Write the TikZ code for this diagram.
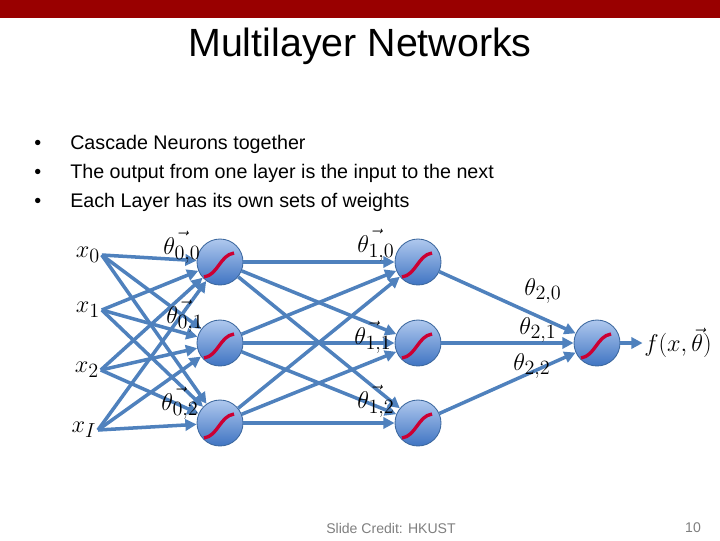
\documentclass[tikz,border=0pt]{standalone}
\usepackage{fontspec}
\setmainfont{Liberation Sans}
\usepackage{amsmath}
\usetikzlibrary{arrows.meta, positioning, calc}
\definecolor{slidered}{HTML}{990000}
\definecolor{nnblue}{HTML}{4F81BD}
\definecolor{nntop}{HTML}{AFC8EE}
\definecolor{nnbot}{HTML}{3F74C2}
\definecolor{nnedge}{HTML}{3B679E}
\definecolor{sigred}{HTML}{CC0033}
\definecolor{credgray}{HTML}{7F7F7F}

\begin{document}
\begin{tikzpicture}[x=0.025cm, y=-0.025cm,
  neuron/.style={circle, minimum size=1.15cm, inner sep=0pt, top color=nntop, bottom color=nnbot, draw=nnedge, line width=0.6pt},
  link/.style={draw=nnblue, line width=2.5pt, -{Triangle[length=8pt, width=8pt]}},
  wlabel/.style={font=\fontsize{19}{22}\selectfont, inner sep=1pt},
  bulletline/.style={font=\fontsize{14}{16}\selectfont, anchor=base west, inner sep=0pt}]
  \useasboundingbox (0,0) rectangle (720,540);
  \fill[slidered] (0,0) rectangle (720,18);
  \node[font=\fontsize{28}{30}\selectfont] (title) at (360,46) {Multilayer Networks};

  \foreach \y/\t [count=\k] in {149/Cascade Neurons together,
                                178/The output from one layer is the input to the next,
                                207/Each Layer has its own sets of weights}{
    \node[bulletline] (dot\k) at (34,\y) {\textbullet};
    \node[bulletline] (item\k) at (70,\y) {\t};
  }

  % neurons
  \foreach \c/\x in {0/220, 1/418}{
    \foreach \r/\y in {0/262, 1/343, 2/423}{
      \node[neuron] (h\c\r) at (\x,\y) {};
    }
  }
  \node[neuron] (o) at (597,343) {};

  % inputs
  \node[wlabel] (x0) at (88,255) {$x_0$};
  \node[wlabel] (x1) at (88,310) {$x_1$};
  \node[wlabel] (x2) at (87,370) {$x_2$};
  \node[wlabel] (x3) at (84,430) {$x_I$};
  \node[wlabel] (f) at (678,343) {$f(x,\vec{\theta})$};

  \foreach \i in {0,...,3}{
    \foreach \j in {0,1,2}{
      \draw[link] (x\i.east) -- (h0\j);
    }
  }
  \foreach \i in {0,1,2}{
    \foreach \j in {0,1,2}{
      \draw[link] (h0\i) -- (h1\j);
    }
    \draw[link] (h1\i) -- (o);
  }
  \draw[link] (o) -- (f);

  % sigmoids
  \foreach \n in {h00,h01,h02,h10,h11,h12,o}{
    \draw[sigred, line width=2.4pt] ($(\n)+(-16,15)$) .. controls ($(\n)+(-2,13)$) and ($(\n)+(0,-7)$) .. ($(\n)+(14,-9)$);
  }

  % weights
  \node[wlabel] (t00) at (182,247) {$\vec{\theta_{0,0}}$};
  \node[wlabel] (t01) at (185,316) {$\vec{\theta_{0,1}}$};
  \node[wlabel] (t02) at (180,403) {$\vec{\theta_{0,2}}$};
  \node[wlabel] (t10) at (376,245) {$\vec{\theta_{1,0}}$};
  \node[wlabel] (t11) at (373,337) {$\vec{\theta_{1,1}}$};
  \node[wlabel] (t12) at (376,401) {$\vec{\theta_{1,2}}$};
  \node[wlabel] (t20) at (543,291) {$\theta_{2,0}$};
  \node[wlabel] (t21) at (538,330) {$\theta_{2,1}$};
  \node[wlabel] (t22) at (532,366) {$\theta_{2,2}$};

  \node[font=\fontsize{10}{12}\selectfont, text=credgray] (credit) at (391,528) {Slide Credit: HKUST};
  \node[font=\fontsize{10}{12}\selectfont, text=credgray] (pageno) at (693,528) {10};
\end{tikzpicture}
\end{document}
